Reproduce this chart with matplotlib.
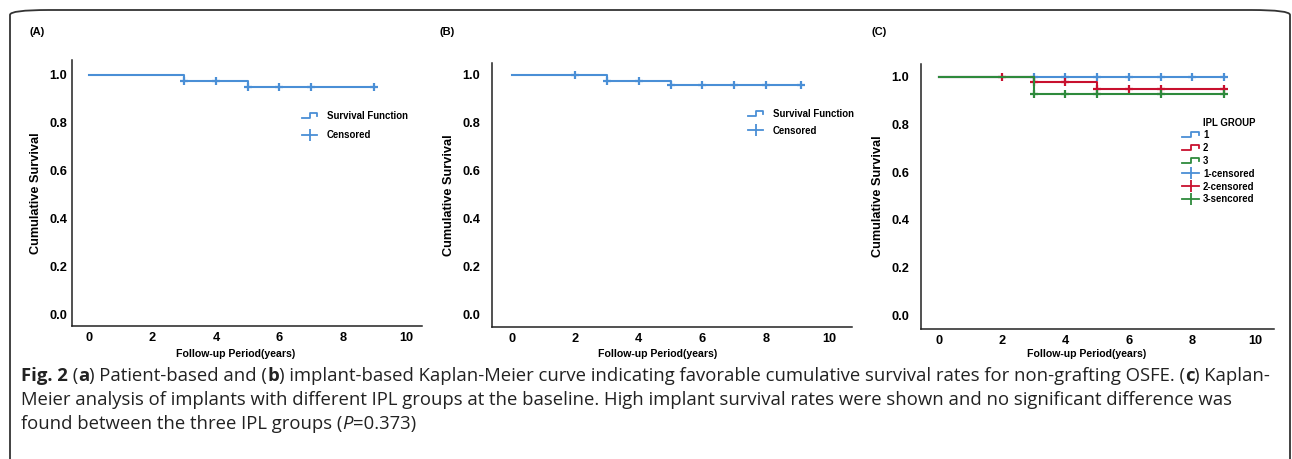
import matplotlib
matplotlib.use("Agg")
import matplotlib.pyplot as plt
import numpy as np
from matplotlib.lines import Line2D
from matplotlib.legend_handler import HandlerBase
from matplotlib.patches import FancyBboxPatch

# ---- data ----
xticks = [0, 2, 4, 6, 8, 10]
yticks = [0.0, 0.2, 0.4, 0.6, 0.8, 1.0]

a_times = [0, 3, 5, 9]
a_surv = [1.0, 0.974, 0.947, 0.947]
a_cens = [3, 4, 5, 6, 7, 9]

b_times = [0, 3, 5, 9.1]
b_surv = [1.0, 0.976, 0.960, 0.960]
b_cens = [2, 3, 4, 5, 6, 7, 8, 9.1]

c1_times = [0, 9]
c1_surv = [1.0, 1.0]
c1_cens = [3, 4, 5, 6, 7, 8, 9]
c2_times = [0, 3, 5, 9]
c2_surv = [1.0, 0.979, 0.949, 0.949]
c2_cens = [2, 3, 4, 5, 6, 7, 9]
c3_times = [0, 3, 9]
c3_surv = [1.0, 0.929, 0.929]
c3_cens = [3, 4, 5, 7, 9]

group_labels = ["1", "2", "3"]
cens_labels = ["1-censored", "2-censored", "3-sencored"]

BLUE = "#4a8fd6"
RED = "#c8102e"
GREEN = "#2e8a3c"

W, H = 1292, 459
fig = plt.figure(figsize=(W / 100, H / 100), dpi=100)
plt.rcParams['font.family'] = ['Liberation Sans', 'DejaVu Sans']


class StepHandler(HandlerBase):
    def create_artists(self, legend, orig_handle, xdescent, ydescent,
                       width, height, fontsize, trans):
        x0 = -xdescent
        y0 = -ydescent
        xs = [x0, x0 + 0.5 * width, x0 + 0.5 * width, x0 + width, x0 + width]
        ys = [y0 + 0.15 * height, y0 + 0.15 * height, y0 + 0.85 * height,
              y0 + 0.85 * height, y0 + 0.45 * height]
        ln = Line2D(xs, ys, color=orig_handle.get_color(), lw=1.3,
                    transform=trans)
        return [ln]


def km(ax, t, s, cens, color):
    t = np.asarray(t, float)
    s = np.asarray(s, float)
    ax.step(t, s, where='post', color=color, lw=1.5)
    idx = np.searchsorted(t, cens, side='right') - 1
    ax.plot(cens, s[idx], ls='none', marker='+', color=color,
            markersize=6, mew=1.6)


def style_axes(ax, xlim, ylim, xlab_x, xlab_y, ypad):
    ax.set_xlim(*xlim)
    ax.set_ylim(*ylim)
    ax.set_xticks(xticks)
    ax.set_yticks(yticks)
    ax.set_yticklabels([f"{v:.1f}" for v in yticks])
    for sp in ["top", "right"]:
        ax.spines[sp].set_visible(False)
    for sp in ["left", "bottom"]:
        ax.spines[sp].set_linewidth(1.1)
        ax.spines[sp].set_color("#222222")
    ax.tick_params(length=0, labelsize=9.2)
    ax.tick_params(axis="x", pad=4)
    ax.tick_params(axis="y", pad=ypad)
    for lab in ax.get_xticklabels() + ax.get_yticklabels():
        lab.set_fontweight("bold")
    ax.set_ylabel("Cumulative Survival", fontsize=9.2, fontweight="bold",
                  labelpad=5)
    ax.set_xlabel("Follow-up Period(years)", fontsize=7.6, fontweight="bold")
    ax.xaxis.set_label_coords(xlab_x, xlab_y)


def px_axes(left, top, right, bottom):
    return fig.add_axes([left / W, 1 - bottom / H, (right - left) / W,
                         (bottom - top) / H])


# outer rounded frame
frame = FancyBboxPatch((10 / W, -0.2), 1280 / W, (H - 10) / H + 0.2,
                       boxstyle="round,pad=0,rounding_size=0.03",
                       transform=fig.transFigure, fill=False,
                       ec="#333333", lw=1.3, mutation_aspect=H / W * 1.0)
fig.patches.append(frame)

# ---- panel A ----
axA = px_axes(72, 60, 422, 326)
km(axA, a_times, a_surv, a_cens, BLUE)
style_axes(axA, (-0.54, 10.5), (-0.049, 1.061), 0.467, -0.086, 3.6)
hA = [Line2D([], [], color=BLUE, lw=1.3),
      Line2D([], [], color=BLUE, lw=1.3, marker='|', markersize=8, mew=1.3)]
axA.legend(hA, ["Survival Function", "Censored"], loc="upper left",
           bbox_to_anchor=(302 / W, 1 - 111 / H), bbox_transform=fig.transFigure,
           frameon=False, borderpad=0, borderaxespad=0, handlelength=1.6,
           handletextpad=1.0, labelspacing=0.95,
           prop={"size": 6.9, "weight": "bold"},
           handler_map={hA[0]: StepHandler()})

# ---- panel B ----
axB = px_axes(492, 63, 852, 327)
km(axB, b_times, b_surv, b_cens, BLUE)
style_axes(axB, (-0.62, 10.71), (-0.053, 1.05), 0.461, -0.083, 8.5)
hB = [Line2D([], [], color=BLUE, lw=1.3),
      Line2D([], [], color=BLUE, lw=1.3, marker='|', markersize=8, mew=1.3)]
axB.legend(hB, ["Survival Function", "Censored"], loc="upper left",
           bbox_to_anchor=(748 / W, 1 - 109 / H), bbox_transform=fig.transFigure,
           frameon=False, borderpad=0, borderaxespad=0, handlelength=1.6,
           handletextpad=1.0, labelspacing=0.7,
           prop={"size": 6.9, "weight": "bold"},
           handler_map={hB[0]: StepHandler()})

# ---- panel C ----
axC = px_axes(921, 64, 1274, 329)
km(axC, c1_times, c1_surv, c1_cens, BLUE)
km(axC, c2_times, c2_surv, c2_cens, RED)
km(axC, c3_times, c3_surv, c3_cens, GREEN)
style_axes(axC, (-0.555, 10.58), (-0.057, 1.053), 0.468, -0.075, 8.5)
colors = [BLUE, RED, GREEN]
hC_steps = [Line2D([], [], color=c, lw=1.3) for c in colors]
hC_cens = [Line2D([], [], color=c, lw=1.3, marker='|', markersize=8, mew=1.3)
           for c in colors]
axC.legend(hC_steps + hC_cens, group_labels + cens_labels, loc="upper left",
           bbox_to_anchor=(1182 / W, 1 - 130 / H), bbox_transform=fig.transFigure,
           frameon=False, borderpad=0, borderaxespad=0, handlelength=1.8,
           handletextpad=0.4, labelspacing=0.3,
           prop={"size": 6.9, "weight": "bold"},
           handler_map={h: StepHandler() for h in hC_steps})
fig.text(1203 / W, 1 - 123 / H, "IPL GROUP", fontsize=6.9, fontweight="bold",
         va="center", ha="left")

# panel letters
for x, lab in [(29, "(A)"), (439, "(B)"), (871, "(C)")]:
    fig.text(x / W, 1 - 32 / H, lab, fontsize=8, fontweight="bold",
             va="center", ha="left")

# ---- caption ----
cap_lines = [
    [("Fig. 2", "bold", "normal"), (" (", "normal", "normal"),
     ("a", "bold", "normal"), (") Patient-based and (", "normal", "normal"),
     ("b", "bold", "normal"),
     (") implant-based Kaplan-Meier curve indicating favorable cumulative "
      "survival rates for non-grafting OSFE. (", "normal", "normal"),
     ("c", "bold", "normal"), (") Kaplan-", "normal", "normal")],
    [("Meier analysis of implants with different IPL groups at the baseline. "
      "High implant survival rates were shown and no significant difference was",
      "normal", "normal")],
    [("found between the three IPL groups (", "normal", "normal"),
     ("P", "normal", "italic"), ("=0.373)", "normal", "normal")],
]
cap_y = [376, 400, 424]
cap_size = 13.3
renderer = fig.canvas.get_renderer()


def run_width(txt, weight, style):
    kw = dict(fontsize=cap_size, fontweight=weight, fontstyle=style,
              family=["Open Sans", "DejaVu Sans"])
    t1 = fig.text(0, 0, "x" + txt + "x", **kw)
    t2 = fig.text(0, 0, "xx", **kw)
    w = (t1.get_window_extent(renderer).width
         - t2.get_window_extent(renderer).width)
    t1.remove()
    t2.remove()
    return w


for runs, y in zip(cap_lines, cap_y):
    x = 21.0
    for txt, weight, style in runs:
        fig.text(x / W, 1 - y / H, txt, fontsize=cap_size, fontweight=weight,
                 fontstyle=style, family=["Open Sans", "DejaVu Sans"],
                 va="center", ha="left", color="#222222")
        x += run_width(txt, weight, style)

fig.savefig("out.png", dpi=100)
